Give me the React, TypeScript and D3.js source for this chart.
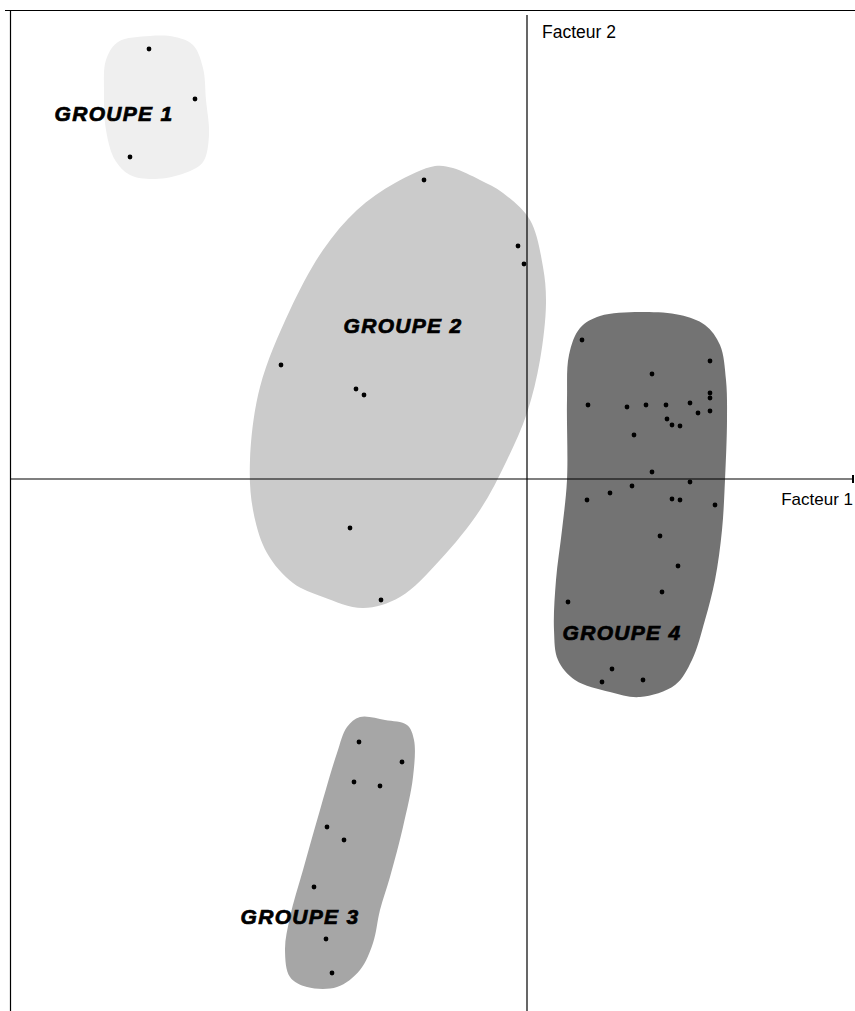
import { useEffect, useRef } from 'react';
import * as d3 from 'd3';

// factor scores (Facteur 1, Facteur 2)
const groupNames = ['GROUPE 1', 'GROUPE 2', 'GROUPE 3', 'GROUPE 4'];
const groupColors = ['#efefef', '#cbcbcb', '#a6a6a6', '#737373'];

const points1: [number, number][] = [
  [-3.78, 4.30], [-3.32, 3.80], [-3.97, 3.22],
];
const points2: [number, number][] = [
  [-1.03, 2.99], [-0.09, 2.33], [-0.03, 2.15], [-2.46, 1.14],
  [-1.71, 0.90], [-1.63, 0.84], [-1.77, -0.49], [-1.46, -1.21],
];
const points3: [number, number][] = [
  [-1.68, -2.63], [-1.25, -2.83], [-1.73, -3.03], [-1.47, -3.07], [-2.00, -3.48],
  [-1.83, -3.61], [-2.13, -4.08], [-2.01, -4.60], [-1.95, -4.94],
];
const points4: [number, number][] = [
  [0.55, 1.39], [1.83, 1.18], [1.25, 1.05], [0.61, 0.74], [1.00, 0.72], [1.19, 0.74],
  [1.39, 0.74], [1.63, 0.76], [1.83, 0.86], [1.83, 0.81], [1.83, 0.68], [1.71, 0.66],
  [1.40, 0.60], [1.45, 0.54], [1.53, 0.53], [1.07, 0.44], [1.25, 0.07], [1.63, -0.03],
  [1.05, -0.07], [0.83, -0.14], [0.60, -0.21], [1.45, -0.20], [1.53, -0.21], [1.88, -0.26],
  [1.33, -0.57], [1.51, -0.87], [1.35, -1.13], [0.41, -1.23], [0.85, -1.90], [0.75, -2.03],
  [1.16, -2.01],
];

// outlines of the group envelopes
const hull1: [number, number][] = [
  [-3.77, 4.43], [-3.52, 4.42], [-3.34, 4.34], [-3.24, 4.11], [-3.21, 3.79], [-3.18, 3.44],
  [-3.24, 3.17], [-3.42, 3.06], [-3.72, 3.00], [-3.97, 3.04], [-4.12, 3.19], [-4.21, 3.49],
  [-4.23, 3.89], [-4.21, 4.19], [-4.09, 4.37],
];
const hull2: [number, number][] = [
  [-0.92, 3.13], [-0.74, 3.11], [-0.47, 2.99], [-0.24, 2.86], [0.03, 2.59], [0.16, 2.12],
  [0.19, 1.76], [0.13, 1.19], [0.00, 0.66], [-0.20, 0.19], [-0.47, -0.31], [-0.87, -0.81],
  [-1.27, -1.18], [-1.64, -1.29], [-2.04, -1.18], [-2.34, -1.04], [-2.60, -0.74], [-2.74, -0.31],
  [-2.77, 0.19], [-2.67, 0.92], [-2.37, 1.69], [-2.04, 2.29], [-1.70, 2.69], [-1.32, 2.96],
];
const hull3: [number, number][] = [
  [-1.67, -2.38], [-1.42, -2.41], [-1.20, -2.46], [-1.13, -2.61], [-1.14, -2.98], [-1.24, -3.48],
  [-1.37, -3.98], [-1.47, -4.31], [-1.54, -4.64], [-1.67, -4.91], [-1.90, -5.08], [-2.20, -5.08],
  [-2.37, -4.98], [-2.42, -4.71], [-2.37, -4.38], [-2.24, -3.91], [-2.07, -3.31], [-1.90, -2.74],
  [-1.80, -2.48],
];
const hull4: [number, number][] = [
  [0.73, 1.63], [1.13, 1.67], [1.53, 1.64], [1.78, 1.54], [1.93, 1.34], [1.99, 0.99],
  [2.00, 0.59], [1.98, -0.01], [1.95, -0.51], [1.88, -1.01], [1.78, -1.41], [1.65, -1.81],
  [1.48, -2.06], [1.13, -2.18], [0.83, -2.13], [0.48, -2.01], [0.31, -1.81], [0.27, -1.51],
  [0.29, -1.01], [0.35, -0.51], [0.40, -0.01], [0.40, 0.79], [0.42, 1.24], [0.53, 1.51],
];

const labelPos: [number, number][] = [
  [-4.13, 3.58], [-1.24, 1.46], [-2.27, -4.45], [0.95, -1.61],
];

const xDomain = [-5.17, 3.26];
const yDomain = [-5.32, 4.69];

export default function App() {
  const svgRef = useRef<SVGSVGElement>(null);

  useEffect(() => {
    const svg = d3.select(svgRef.current);
    svg.selectAll('*').remove();

    const width = 855;
    const height = 1011;

    const x = d3.scaleLinear().domain(xDomain).range([10, 853]);
    const y = d3.scaleLinear().domain(yDomain).range([height, 10]);

    const hulls = [hull1, hull2, hull3, hull4];
    const pts = [points1, points2, points3, points4];

    const line = d3.line<[number, number]>()
      .x(d => x(d[0]))
      .y(d => y(d[1]))
      .curve(d3.curveCatmullRomClosed.alpha(0.5));

    svg.append('rect')
      .attr('width', width)
      .attr('height', height)
      .attr('fill', '#fff');

    svg.append('g')
      .selectAll('path')
      .data(hulls)
      .join('path')
      .attr('d', d => line(d))
      .attr('fill', (d, i) => groupColors[i]);

    // frame + axes
    const axes = svg.append('g').attr('stroke', '#000').attr('stroke-width', 1.2);
    axes.append('line')
      .attr('x1', 5).attr('x2', width).attr('y1', 10.5).attr('y2', 10.5);
    axes.append('line')
      .attr('x1', 10.5).attr('x2', 10.5).attr('y1', 10).attr('y2', height);
    axes.append('line')
      .attr('x1', x(0)).attr('x2', x(0)).attr('y1', 15).attr('y2', height);
    axes.append('line')
      .attr('x1', x(xDomain[0])).attr('x2', x(xDomain[1])).attr('y1', y(0)).attr('y2', y(0));
    axes.append('line')
      .attr('x1', x(xDomain[1])).attr('x2', x(xDomain[1]))
      .attr('y1', y(0) - 4).attr('y2', y(0) + 4)
      .attr('stroke-width', 2);

    svg.append('text')
      .attr('x', x(0) + 15)
      .attr('y', 38)
      .attr('font-family', 'Liberation Sans, Arial, sans-serif')
      .attr('font-size', 17.5)
      .text('Facteur 2');

    svg.append('text')
      .attr('x', x(xDomain[1]))
      .attr('y', y(0) + 26)
      .attr('text-anchor', 'end')
      .attr('font-family', 'Liberation Sans, Arial, sans-serif')
      .attr('font-size', 17)
      .text('Facteur 1');

    pts.forEach(group => {
      svg.append('g')
        .selectAll('circle')
        .data(group)
        .join('circle')
        .attr('cx', d => x(d[0]))
        .attr('cy', d => y(d[1]))
        .attr('r', 2.4)
        .attr('fill', '#000');
    });

    svg.append('g')
      .selectAll('text')
      .data(groupNames)
      .join('text')
      .attr('x', (d, i) => x(labelPos[i][0]))
      .attr('y', (d, i) => y(labelPos[i][1]))
      .attr('text-anchor', 'middle')
      .attr('font-family', 'Liberation Sans, Arial, sans-serif')
      .attr('font-weight', 'bold')
      .attr('font-style', 'italic')
      .attr('font-size', 21)
      .attr('letter-spacing', 1.3)
      .attr('stroke', '#000')
      .attr('stroke-width', 0.7)
      .attr('fill', '#000')
      .text(d => d);
  }, []);

  return (
    <svg
      ref={svgRef}
      width={855}
      height={1011}
      style={{ position: 'absolute', left: 0, top: 0, display: 'block' }}
    ></svg>
  );
}
